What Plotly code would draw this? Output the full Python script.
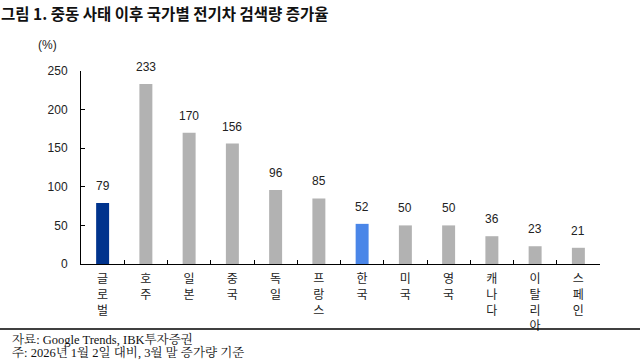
import plotly.graph_objects as go

categories = ["글로벌", "호주", "일본", "중국", "독일", "프랑스", "한국", "미국", "영국", "캐나다", "이탈리아", "스페인"]
values = [79, 233, 170, 156, 96, 85, 52, 50, 50, 36, 23, 21]
colors = ["#00338D"] + ["#B2B2B2"] * 5 + ["#4A86E8"] + ["#B2B2B2"] * 5
y_ticks = [0, 50, 100, 150, 200, 250]

title = "그림 1. 중동 사태 이후 국가별 전기차 검색량 증가율"
source = "자료: Google Trends, IBK투자증권"
note = "주: 2026년 1월 2일 대비, 3월 말 증가량 기준"

def vert(s):
    return "<br>".join(list(s))

PW, PH, L, B = 519, 193, 81, 264

def px(x):
    return (x - L) / PW

def py(y):
    return (B - y) / PH

fig = go.Figure()
fig.add_trace(go.Bar(
    x=categories, y=values, marker=dict(color=colors, line=dict(width=0)),
    width=0.3, showlegend=False, hoverinfo="skip",
))

for c, v in zip(categories, values):
    fig.add_annotation(x=c, y=v, text=str(v), showarrow=False, yanchor="bottom",
                       yshift=8, font=dict(family="Liberation Sans, Arial", size=12, color="#222"))

fig.update_layout(
    width=640, height=360,
    margin=dict(l=81, r=40, t=71, b=96),
    paper_bgcolor="white", plot_bgcolor="white",
    font=dict(family="Liberation Sans, Noto Sans CJK KR", size=12, color="#222"),
    bargap=0.7,
)
fig.update_yaxes(range=[0, 250], tickvals=y_ticks, showgrid=False, showline=True,
                 linecolor="#000", linewidth=1, ticks="inside", ticklen=4,
                 tickcolor="#000", zeroline=False, ticklabelstandoff=10,
                 tickfont=dict(family="Liberation Sans, Arial", size=12))
fig.update_xaxes(showgrid=False, showline=True, linecolor="#000", linewidth=1,
                 ticks="inside", ticklen=4, tickcolor="#000", tickson="boundaries",
                 tickvals=categories, ticktext=[vert(c) for c in categories],
                 tickangle=0, tickfont=dict(family="Noto Sans CJK KR", size=12),
                 ticklabelstandoff=4)

# (%) unit label
fig.add_annotation(xref="paper", yref="paper", x=px(47), y=py(45), text="(%)",
                   showarrow=False, xanchor="center", yanchor="middle", font=dict(size=12))
# title
fig.add_annotation(xref="paper", yref="paper", x=px(0), xanchor="left",
                   y=py(1), yanchor="top", text="<b>" + title + "</b>",
                   showarrow=False, font=dict(family="Noto Sans CJK KR", size=15.5, color="#111"),
                   borderpad=0)
# separator line
fig.add_shape(type="line", xref="paper", yref="paper", x0=px(0), x1=px(640),
              y0=py(329), y1=py(329), line=dict(color="#000", width=1.5))
serif = "Liberation Serif, Noto Serif CJK KR, Noto Sans CJK KR"
fig.add_annotation(xref="paper", yref="paper", x=px(10), xanchor="left", y=py(339),
                   yanchor="middle", text=source, showarrow=False,
                   font=dict(family=serif, size=12.5, color="#111"))
fig.add_annotation(xref="paper", yref="paper", x=px(10), xanchor="left", y=py(352),
                   yanchor="middle", text=note, showarrow=False,
                   font=dict(family=serif, size=12.5, color="#111"))

fig.write_html("out.html")
